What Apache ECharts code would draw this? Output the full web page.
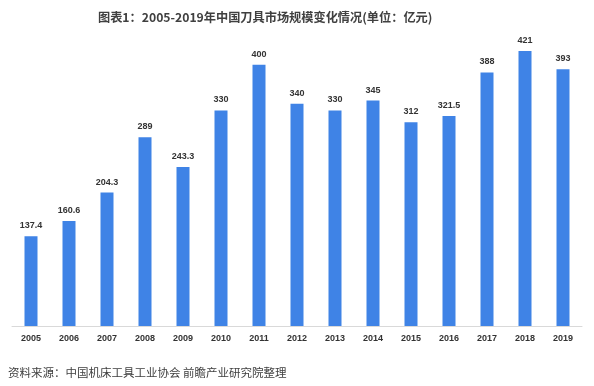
<!DOCTYPE html>
<html><head><meta charset="utf-8">
<script src="https://cdn.jsdelivr.net/npm/echarts@6/dist/echarts.min.js"></script>
<style>html,body{margin:0;padding:0;background:#fff}#c{width:594px;height:386px}</style>
</head><body><div id="c"></div>
<script>
const years = ['2005','2006','2007','2008','2009','2010','2011','2012','2013','2014','2015','2016','2017','2018','2019'];
const values = [137.4,160.6,204.3,289,243.3,330,400,340,330,345,312,321.5,388,421,393];
const titleText = '图表1：2005-2019年中国刀具市场规模变化情况(单位：亿元)';
const sourceText = '资料来源：中国机床工具工业协会 前瞻产业研究院整理';
const chart = echarts.init(document.getElementById('c'));
chart.setOption({
  animation:false,
  title:[{text:titleText,left:93,top:6,textStyle:{fontFamily:'"Noto Sans CJK SC"',fontSize:12.2,fontWeight:'bold',color:'#404040'}},
         {text:sourceText,left:3,top:362,textStyle:{fontFamily:'"Noto Sans CJK SC"',fontSize:11.5,fontWeight:'normal',color:'#404040'}}],
  grid:{left:12,right:12,top:32,bottom:60},
  xAxis:{type:'category',data:years,axisLine:{lineStyle:{color:'#d9d9d9'}},axisTick:{show:false},
    axisLabel:{color:'#333',fontSize:9,fontWeight:'bold',fontFamily:'"Liberation Sans", Arial',margin:8}},
  yAxis:{type:'value',min:0,max:450,show:false,splitLine:{show:false}},
  series:[{type:'bar',data:values,barWidth:13,itemStyle:{color:'#3f83e6'},
    label:{show:true,position:'top',distance:6,color:'#333',fontSize:9,fontWeight:'bold',fontFamily:'"Liberation Sans", Arial'}}]
});
</script></body></html>
